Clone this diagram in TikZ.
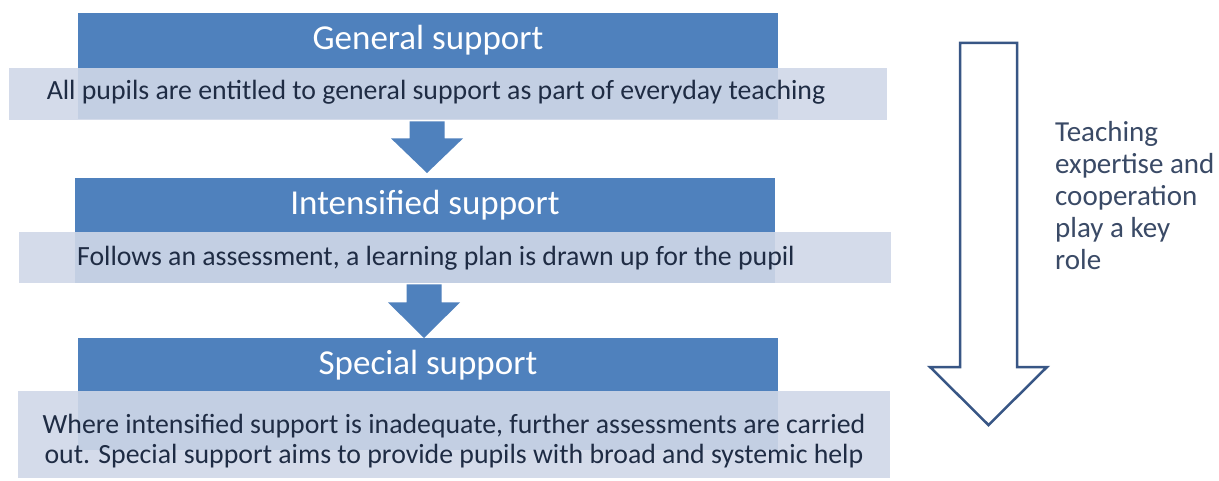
\documentclass[tikz,border=0pt]{standalone}
\usepackage{fontspec}
\setmainfont{Carlito}
\usetikzlibrary{calc}
\definecolor{hdblue}{RGB}{79,129,189}
\definecolor{paneltint}{RGB}{208,216,232}
\definecolor{bodyink}{RGB}{31,44,68}
\definecolor{sideink}{RGB}{58,74,102}
\definecolor{outline}{RGB}{56,86,133}
\begin{document}
\begin{tikzpicture}[x=1pt,y=-1pt,
  backblock/.style={rectangle, fill=hdblue, draw=none, inner sep=0pt,
    minimum width=700pt, anchor=north west},
  panel/.style={rectangle, fill=paneltint, fill opacity=0.9, draw=none,
    inner sep=0pt, anchor=north west},
  titletext/.style={text=white, font=\fontsize{35}{40}\selectfont, inner sep=0pt},
  bodytext/.style={text=bodyink, font=\fontsize{27.8}{30.5}\selectfont, inner sep=0pt, align=center},
  sidetext/.style={text=sideink, font=\fontsize{29}{32}\selectfont, inner sep=0pt, align=left, anchor=north west},
  blockfill/.style={fill=hdblue, draw=none},
  hollow/.style={draw=outline, line width=2.5pt, fill=white, line join=miter}
]
\useasboundingbox (0,0) rectangle (1219,481);
\fill[white] (0,0) rectangle (1219,481);

% three tiers: a blue block with a translucent panel over its lower half
\node[backblock, minimum height=106pt] (b1) at (78,13) {};
\node[panel, minimum width=878pt, minimum height=52pt] (p1) at (9,68) {};
\node[titletext] (g1) at (428,40) {General support};
\node[bodytext] (d1) at (436,92) {All pupils are entitled to general support as part of everyday teaching};

\node[backblock, minimum height=105pt] (b2) at (75,178) {};
\node[panel, minimum width=872pt, minimum height=51pt] (p2) at (19,232) {};
\node[titletext] (g2) at (425,205) {Intensified support};
\node[bodytext] (d2) at (436,258) {Follows an assessment, a learning plan is drawn up for the pupil};

\node[backblock, minimum height=112pt] (b3) at (78,338) {};
\node[panel, minimum width=872pt, minimum height=87pt] (p3) at (18,391) {};
\node[titletext] (g3) at (428,365) {Special support};
\node[bodytext] (d3) at (454,441) {Where intensified support is inadequate, further assessments are carried\\out. Special support aims to provide pupils with broad and systemic help};

% block arrows between the tiers
\coordinate (a1) at ($(p1.south west) + (418,1)$);
\coordinate (a1tip) at ($(b2.north west) + (352,-5)$);
\fill[blockfill] ($(a1)+(-17.5,0)$) -- ($(a1)+(17.5,0)$) -- ($(a1)+(17.5,17)$)
  -- ($(a1)+(36,17)$) -- (a1tip) -- ($(a1)+(-36,17)$) -- ($(a1)+(-17.5,17)$) -- cycle;

\coordinate (a2) at ($(p2.south west) + (405,1)$);
\coordinate (a2tip) at (b3.north west -| a2);
\fill[blockfill] ($(a2)+(-17.5,0)$) -- ($(a2)+(17.5,0)$) -- ($(a2)+(17.5,18)$)
  -- ($(a2)+(36,18)$) -- (a2tip) -- ($(a2)+(-36,18)$) -- ($(a2)+(-17.5,18)$) -- cycle;

% hollow arrow on the right
\draw[hollow] (960,43) -- (1017,43) -- (1017,367) -- (1047,367) -- (988.5,425)
  -- (930,367) -- (960,367) -- cycle;
\node[sidetext] (note) at (1055,121) {Teaching\\expertise and\\cooperation\\play a key\\role};
\end{tikzpicture}
\end{document}
